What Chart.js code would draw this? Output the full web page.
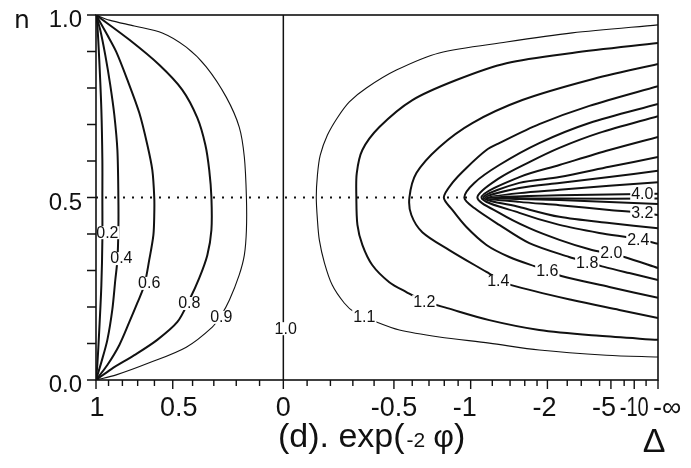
<!DOCTYPE html>
<html>
<head>
<meta charset="utf-8">
<script src="https://cdn.jsdelivr.net/npm/chart.js@4.4.1/dist/chart.umd.min.js"></script>
<style>
  html, body { margin: 0; padding: 0; background: #fff; }
  canvas { display: block; }
</style>
</head>
<body>
<canvas id="chart" width="691" height="468"></canvas>
<script>
// contour lines of exp(-2φ), each as [Δ, n] points
const line_0_2 = [[1, 1], [0.989, 0.973], [0.973, 0.877], [0.956, 0.740], [0.948, 0.603], [0.948, 0.5],
  [0.948, 0.384], [0.956, 0.260], [0.973, 0.137], [0.989, 0.041], [1, 0]];
const line_0_4 = [[1, 1], [0.965, 0.959], [0.925, 0.890], [0.887, 0.808], [0.857, 0.726], [0.835, 0.630],
  [0.828, 0.5], [0.828, 0.411], [0.835, 0.329], [0.850, 0.274], [0.872, 0.192], [0.909, 0.110],
  [0.956, 0.049], [1, 0]];
const line_0_6 = [[1, 1], [0.909, 0.945], [0.843, 0.899], [0.766, 0.822], [0.690, 0.732], [0.641, 0.644],
  [0.612, 0.575], [0.601, 0.5], [0.601, 0.452], [0.606, 0.397], [0.630, 0.329], [0.659, 0.260],
  [0.702, 0.211], [0.753, 0.159], [0.821, 0.096], [0.909, 0.041], [1, 0]];
const line_0_8 = [[1, 1], [0.753, 0.932], [0.572, 0.863], [0.451, 0.795], [0.377, 0.718], [0.339, 0.644],
  [0.321, 0.575], [0.311, 0.5], [0.311, 0.411], [0.330, 0.342], [0.368, 0.279], [0.416, 0.219],
  [0.476, 0.159], [0.584, 0.110], [0.721, 0.068], [0.879, 0.030], [1, 0]];
const line_0_9 = [[1, 1], [0.894, 0.986], [0.721, 0.970], [0.556, 0.951], [0.431, 0.912], [0.335, 0.858],
  [0.244, 0.775], [0.187, 0.693], [0.165, 0.611], [0.156, 0.5], [0.156, 0.411], [0.165, 0.342],
  [0.187, 0.288], [0.230, 0.219], [0.266, 0.178], [0.307, 0.145], [0.431, 0.090], [0.630, 0.047],
  [0.843, 0.014], [1, 0]];
const line_1_0 = [[0, 1], [0, 0]];
const line_1_1 = [[-Infinity, 0.973], [-2.66, 0.951], [-1.356, 0.926], [-0.766, 0.896], [-0.513, 0.849],
  [-0.363, 0.800], [-0.284, 0.762], [-0.230, 0.718], [-0.187, 0.671], [-0.156, 0.616], [-0.144, 0.562],
  [-0.139, 0.5], [-0.144, 0.438], [-0.152, 0.384], [-0.174, 0.321], [-0.208, 0.260], [-0.261, 0.211],
  [-0.307, 0.186], [-0.411, 0.159], [-0.529, 0.137], [-0.766, 0.118], [-1.170, 0.101], [-1.840, 0.082],
  [-4.55, 0.068], [-Infinity, 0.063]];
const line_1_2 = [[-Infinity, 0.923], [-2.66, 0.896], [-1.356, 0.868], [-0.887, 0.822], [-0.601, 0.767],
  [-0.426, 0.693], [-0.344, 0.630], [-0.318, 0.567], [-0.316, 0.5], [-0.321, 0.425], [-0.344, 0.370],
  [-0.391, 0.315], [-0.476, 0.268], [-0.567, 0.241], [-0.671, 0.216], [-0.821, 0.197], [-1.170, 0.164],
  [-1.840, 0.137], [-3.98, 0.121], [-Infinity, 0.110]];
const line_1_4 = [[-Infinity, 0.866], [-3.38, 0.822], [-1.564, 0.767], [-1.014, 0.704], [-0.766, 0.638],
  [-0.624, 0.567], [-0.584, 0.5], [-0.595, 0.452], [-0.659, 0.405], [-0.835, 0.356], [-1.142, 0.296],
  [-1.263, 0.277], [-1.416, 0.260], [-2.66, 0.219], [-6.11, 0.192], [-Infinity, 0.170]];
const line_1_6 = [[-Infinity, 0.805], [-3.38, 0.751], [-1.840, 0.701], [-1.274, 0.649], [-1.142, 0.630],
  [-0.965, 0.581], [-0.857, 0.540], [-0.797, 0.5], [-0.857, 0.466], [-0.965, 0.419], [-1.142, 0.370],
  [-1.391, 0.337], [-1.752, 0.312], [-1.998, 0.301], [-2.33, 0.285], [-4.83, 0.255], [-Infinity, 0.225]];
const line_1_8 = [[-Infinity, 0.756], [-3.38, 0.704], [-1.840, 0.649], [-1.274, 0.589], [-1.031, 0.540],
  [-0.948, 0.5], [-1.031, 0.471], [-1.274, 0.425], [-1.670, 0.375], [-2.56, 0.337], [-3.27, 0.323],
  [-4.36, 0.310], [-8.27, 0.293], [-Infinity, 0.274]];
const line_2_0 = [[-Infinity, 0.723], [-3.98, 0.677], [-2.28, 0.636], [-1.670, 0.597], [-1.274, 0.553],
  [-1.058, 0.5], [-1.274, 0.458], [-1.670, 0.416], [-2.28, 0.384], [-3.38, 0.358], [-5.04, 0.345],
  [-7.03, 0.337], [-Infinity, 0.307]];
const line_2_4 = [[-Infinity, 0.666], [-4.83, 0.630], [-2.28, 0.589], [-1.522, 0.556], [-1.095, 0.5],
  [-1.522, 0.458], [-2.28, 0.425], [-3.98, 0.403], [-12.1, 0.386], [-Infinity, 0.373]];
const line_2_8 = [[-Infinity, 0.611], [-4.83, 0.584], [-2.28, 0.556], [-1.522, 0.540], [-1.114, 0.5],
  [-1.522, 0.474], [-2.28, 0.447], [-4.83, 0.430], [-Infinity, 0.416]];
const line_3_2 = [[-Infinity, 0.573], [-4.83, 0.556], [-2.28, 0.540], [-1.522, 0.526], [-1.133, 0.5],
  [-1.522, 0.488], [-2.28, 0.479], [-4.83, 0.466], [-15, 0.458], [-Infinity, 0.452]];
const line_3_6 = [[-Infinity, 0.542], [-4.83, 0.532], [-2.28, 0.521], [-1.522, 0.512], [-1.15, 0.5],
  [-1.522, 0.496], [-2.28, 0.493], [-4.83, 0.488], [-Infinity, 0.482]];
const line_4_0 = [[-Infinity, 0.510], [-2.28, 0.506], [-1.17, 0.5], [-2.28, 0.497], [-Infinity, 0.497]];

// dotted half-filling line n = 0.5 for 1 > Δ > -1
const halfFilling = [[1, 0.5], [-1, 0.5]];

const levels = [0.2, 0.4, 0.6, 0.8, 0.9, 1.0, 1.1, 1.2, 1.4, 1.6, 1.8, 2.0, 2.4, 2.8, 3.2, 3.6, 4.0];
const contourLines = [line_0_2, line_0_4, line_0_6, line_0_8, line_0_9, line_1_0, line_1_1, line_1_2,
  line_1_4, line_1_6, line_1_8, line_2_0, line_2_4, line_2_8, line_3_2, line_3_6, line_4_0];

// axis ticks
const deltaMajor = [1, 0.5, 0, -0.5, -1, -2, -5, -10, -Infinity];
const deltaMajorLabels = ['1', '0.5', '0', '-0.5', '-1', '-2', '-5', '-10', '-∞'];
const deltaMinor = [0.9, 0.8, 0.7, 0.6, 0.4, 0.3, 0.2, 0.1, -0.1, -0.2, -0.3, -0.4, -0.6, -0.7, -0.8, -0.9,
  -1.2, -1.4, -1.6, -1.8, -2.5, -3, -4, -7, -20];
const nTicks = [0, 0.1, 0.2, 0.3, 0.4, 0.5, 0.6, 0.7, 0.8, 0.9, 1.0];
const nTickLabels = ['0.0', '', '', '', '', '0.5', '', '', '', '', '1.0'];

// layout only: where the level labels sit on the lines, and label nudges
const labelTexts = ['0.2', '0.4', '0.6', '0.8', '0.9', '1.0', '1.1', '1.2', '1.4', '1.6', '1.8', '2.0', '2.4', '3.2', '4.0'];
const labelSpots = [[0.909, 0.405], [0.807, 0.334], [0.630, 0.266], [0.416, 0.211], [0.266, 0.173],
  [-0.01, 0.142], [-0.353, 0.175], [-0.671, 0.216], [-1.263, 0.271], [-1.998, 0.301], [-3.27, 0.323],
  [-5.04, 0.348], [-12.1, 0.386], [-15.2, 0.458], [-15.2, 0.512]];
const xLabelShift = [1, 6, 0, 0, -6, -3, -7, 0, 0];

const thinLevels = [0.9, 1.1];
const FONT = '"Liberation Sans", Arial, sans-serif';

// the x axis is linear in arctan(Δ), so Δ = -∞ lands on the right edge
const toAxis = d => -Math.atan(d) * 180 / Math.PI;
const toPoints = pts => pts.map(([d, n]) => ({x: toAxis(d), y: n}));

const datasets = contourLines.map((pts, i) => ({
    data: toPoints(pts),
    borderColor: '#111',
    borderWidth: thinLevels.includes(levels[i]) ? 1.1 : (levels[i] === 1.0 ? 1.5 : 2),
    tension: 0.3,
    pointRadius: 0,
    fill: false,
}));
datasets.push({
    data: toPoints(halfFilling),
    borderColor: '#111',
    borderWidth: 1.8,
    borderDash: [2, 7],
    pointRadius: 0,
    fill: false,
});

const decorations = {
    id: 'decorations',
    afterDatasetsDraw(chart) {
        const {ctx, scales: {x, y}} = chart;
        ctx.save();
        ctx.font = '16px ' + FONT;
        ctx.textAlign = 'center';
        ctx.textBaseline = 'middle';
        labelSpots.forEach(([d, n], i) => {
            const px = x.getPixelForValue(toAxis(d));
            const py = y.getPixelForValue(n);
            const w = ctx.measureText(labelTexts[i]).width;
            ctx.fillStyle = '#fff';
            ctx.fillRect(px - w / 2 - 1, py - 6, w + 2, 13);
            ctx.fillStyle = '#111';
            ctx.fillText(labelTexts[i], px, py + 1);
        });
        ctx.restore();
    },
    afterDraw(chart) {
        const {ctx, chartArea: area, scales: {x, y}} = chart;
        ctx.save();
        ctx.strokeStyle = '#111';
        ctx.fillStyle = '#111';
        ctx.lineWidth = 1.6;
        ctx.strokeRect(area.left, area.top, area.right - area.left, area.bottom - area.top);

        // tick marks
        ctx.lineWidth = 1.4;
        ctx.beginPath();
        nTicks.forEach(n => {
            const py = y.getPixelForValue(n);
            ctx.moveTo(area.left - 9, py);
            ctx.lineTo(area.left, py);
        });
        deltaMinor.forEach(d => {
            const px = x.getPixelForValue(toAxis(d));
            ctx.moveTo(px, area.bottom);
            ctx.lineTo(px, area.bottom + 6);
        });
        deltaMajor.forEach(d => {
            const px = x.getPixelForValue(toAxis(d));
            ctx.moveTo(px, area.bottom);
            ctx.lineTo(px, area.bottom + 9);
        });
        ctx.stroke();

        // tick labels
        ctx.font = '24px ' + FONT;
        ctx.textAlign = 'right';
        ctx.textBaseline = 'alphabetic';
        nTicks.forEach((n, i) => {
            if (nTickLabels[i]) ctx.fillText(nTickLabels[i], 82, y.getPixelForValue(n) + 12);
        });
        ctx.font = '27px ' + FONT;
        ctx.textAlign = 'center';
        deltaMajor.forEach((d, i) => {
            const px = x.getPixelForValue(toAxis(d)) + xLabelShift[i];
            const label = deltaMajorLabels[i];
            if (label === '-∞') {
                ctx.textAlign = 'left';
                ctx.fillText(label, px - 5, area.bottom + 36, 34);
                ctx.textAlign = 'center';
            } else if (label === '-10') {
                ctx.fillText(label, px, area.bottom + 36, 29);
            } else {
                ctx.fillText(label, px, area.bottom + 36);
            }
        });

        // axis titles
        ctx.textAlign = 'left';
        ctx.font = '25px "DejaVu Sans", ' + FONT;
        ctx.fillText('n', 14, 28);

        let tx = 278;
        const base = 447;
        const piece = (text, size, dy = 0) => {
            ctx.font = size + 'px ' + FONT;
            ctx.fillText(text, tx, base + dy);
            tx += ctx.measureText(text).width;
        };
        piece('(d). exp(', 34);
        tx += 2;
        piece('-2', 21);
        tx += 8;
        piece('φ', 32);
        piece(')', 34);

        ctx.font = '34px ' + FONT;
        ctx.textAlign = 'center';
        ctx.fillText('Δ', 654, 452);
        ctx.restore();
    },
};

new Chart(document.getElementById('chart'), {
    type: 'line',
    data: {datasets},
    options: {
        responsive: false,
        animation: false,
        devicePixelRatio: 1,
        layout: {padding: {left: 96, right: 33, top: 15, bottom: 88}},
        plugins: {
            legend: {display: false},
            tooltip: {enabled: false},
        },
        scales: {
            x: {type: 'linear', min: -45, max: 90, display: false},
            y: {type: 'linear', min: 0, max: 1, display: false},
        },
    },
    plugins: [decorations],
});
</script>
</body>
</html>
